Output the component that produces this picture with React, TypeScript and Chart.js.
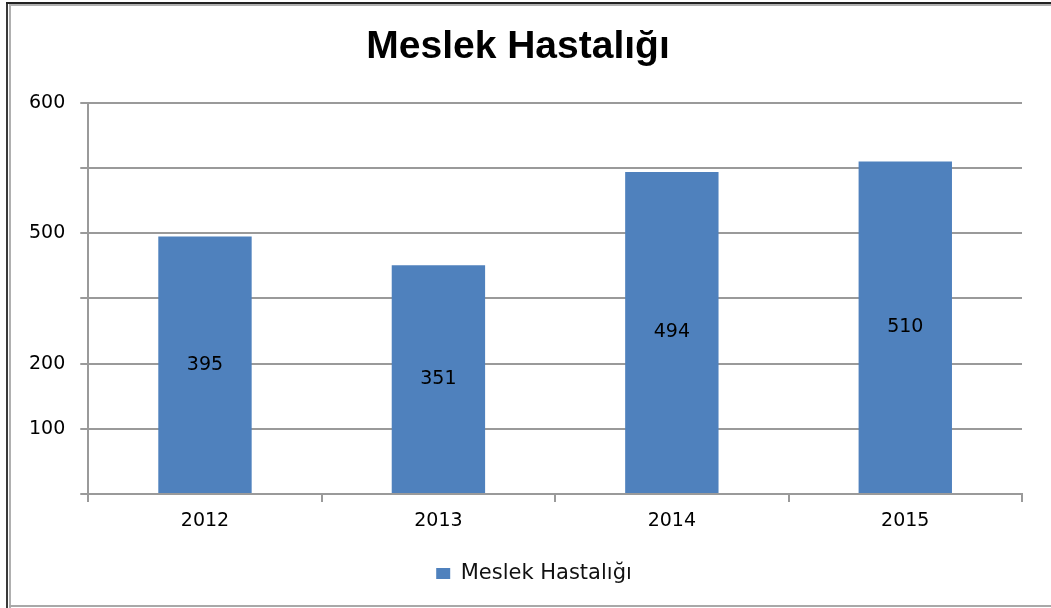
import React, { useEffect, useRef } from "react";
import { Chart, registerables } from "chart.js";

Chart.register(...registerables);

const chartTitle = "Meslek Hastalığı";
const seriesName = "Meslek Hastalığı";
const categories = ["2012", "2013", "2014", "2015"];
const values = [395, 351, 494, 510];
// tick labels as printed in the reference for gridlines 0,100,...,600
const yTickLabels = ["", "100", "200", "", "500", "", "600"];

const barColor = "#4F81BD";
const gridColor = "#9a9a9a";

const valueLabelPlugin = {
  id: "valueLabels",
  afterDatasetsDraw(chart: any) {
    const ctx = chart.ctx;
    ctx.save();
    ctx.font = "19px 'DejaVu Sans'";
    ctx.fillStyle = "#000";
    ctx.textAlign = "center";
    ctx.textBaseline = "middle";
    chart.data.datasets.forEach((ds: any, di: number) => {
      const meta = chart.getDatasetMeta(di);
      meta.data.forEach((el: any, i: number) => {
        const p = el.getProps(["x", "y", "base"], true);
        ctx.fillText(String(ds.data[i]), p.x, (p.y + p.base) / 2);
      });
    });
    ctx.restore();
  },
};

const legendShiftPlugin = {
  id: "legendShift",
  afterLayout(chart: any) {
    const lg = chart.legend;
    if (lg) {
      lg.left += 16;
      lg.right += 16;
    }
  },
};

export default function App() {
  const ref = useRef<HTMLCanvasElement | null>(null);
  useEffect(() => {
    if (!ref.current) return;
    Chart.defaults.font.family = "'DejaVu Sans'";
    const chart = new Chart(ref.current, {
      type: "bar",
      data: {
        labels: categories,
        datasets: [
          {
            label: seriesName,
            data: values,
            backgroundColor: barColor,
            borderWidth: 0,
            barPercentage: 0.4,
            categoryPercentage: 1.0,
          },
        ],
      },
      options: {
        responsive: false,
        animation: false,
        layout: { padding: { left: 14, right: 29, top: 0, bottom: 14 } },
        plugins: {
          title: {
            display: true,
            text: chartTitle,
            color: "#000",
            font: { family: "'Liberation Sans'", size: 39, weight: "bold" },
            padding: { top: 24, bottom: 32 },
          },
          legend: {
            display: true,
            position: "bottom",
            labels: {
              boxWidth: 14,
              boxHeight: 11,
              color: "#111",
              font: { size: 21 },
              padding: 10,
            },
          },
          tooltip: { enabled: false },
        },
        scales: {
          x: {
            grid: {
              display: true,
              drawOnChartArea: false,
              drawTicks: true,
              tickLength: 8,
              color: gridColor,
              lineWidth: 2,
            },
            border: { display: true, color: gridColor, width: 2 },
            ticks: { color: "#000", font: { size: 19 }, padding: 8 },
            afterFit: (scale: any) => {
              scale.height = 59;
            },
          },
          y: {
            min: 0,
            max: 600,
            ticks: {
              stepSize: 100,
              color: "#000",
              font: { size: 19 },
              padding: 15,
              callback: (_v: any, index: number) => yTickLabels[index],
            },
            grid: {
              color: gridColor,
              lineWidth: 2,
              drawTicks: true,
              tickLength: 8,
            },
            border: { display: true, color: gridColor, width: 2 },
          },
        },
      },
      plugins: [valueLabelPlugin, legendShiftPlugin],
    } as any);
    return () => chart.destroy();
  }, []);

  return (
    <div
      style={{
        position: "absolute",
        left: 0,
        top: 0,
        width: 1051,
        height: 608,
        background: "#fff",
        overflow: "hidden",
      }}
    >
      <div style={{ position: "absolute", left: 6, top: 2, width: 2, height: 606, background: "#3a3a3a" }} />
      <div style={{ position: "absolute", left: 6, top: 2, width: 1045, height: 2, background: "#222" }} />
      <div style={{ position: "absolute", left: 9, top: 4, width: 2, height: 604, background: "#b0b0b0" }} />
      <div style={{ position: "absolute", left: 9, top: 4, width: 1042, height: 2, background: "#b0b0b0" }} />
      <div style={{ position: "absolute", left: 9, top: 605, width: 1042, height: 2, background: "#a8a8a8" }} />
      <canvas
        ref={ref}
        width={1051}
        height={608}
        style={{ position: "absolute", left: 0, top: 0 }}
      />
    </div>
  );
}
